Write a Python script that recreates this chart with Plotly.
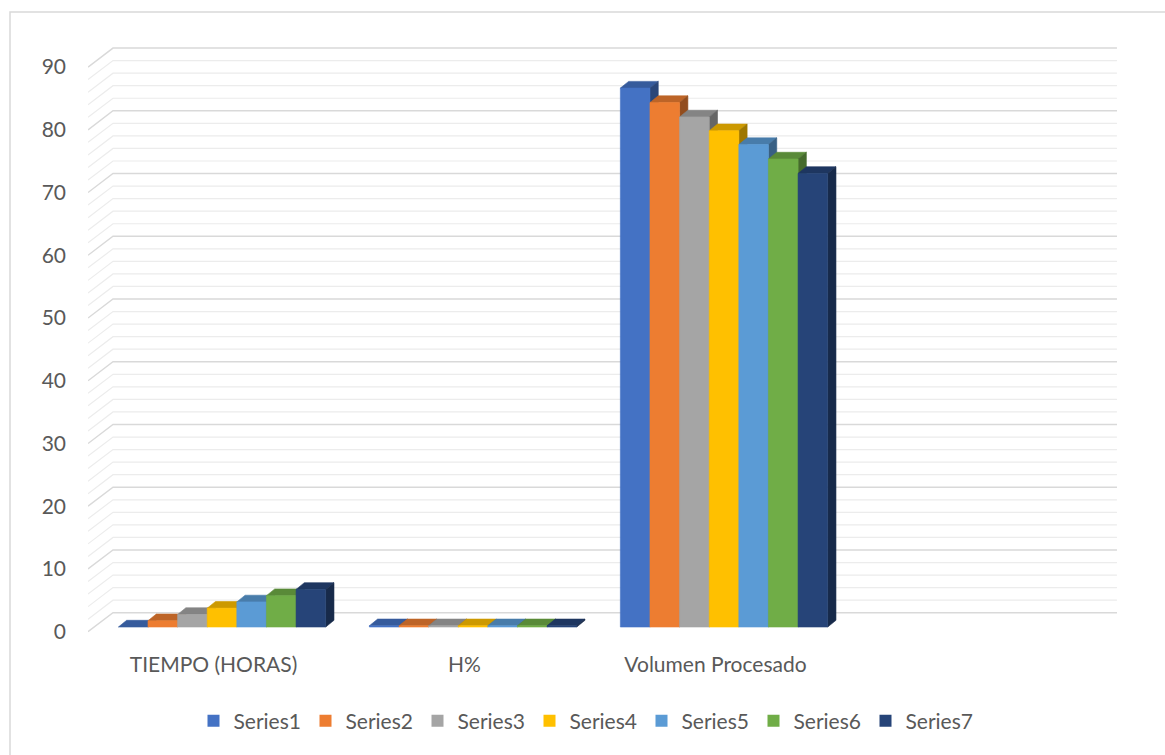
import plotly.graph_objects as go

# ---- data -------------------------------------------------------------
categories = ["TIEMPO (HORAS)", "H%", "Volumen Procesado"]
series_names = ["Series1", "Series2", "Series3", "Series4", "Series5", "Series6", "Series7"]
tiempo = [0, 1, 2, 3, 4, 5, 6]
humedad = [0.2, 0.2, 0.2, 0.2, 0.2, 0.2, 0.2]
volumen = [85.9, 83.6, 81.3, 79.1, 76.9, 74.6, 72.3]
y_ticks = [0, 10, 20, 30, 40, 50, 60, 70, 80, 90]

colors = ["#4472C4", "#ED7D31", "#A5A5A5", "#FFC000", "#5B9BD5", "#70AD47", "#264478"]

# ---- geometry of the pseudo-3D column chart (axis units) ---------------
N_SLOTS = 4                 # three categories plus one empty slot on the right
BAR_W = 0.118               # width of one column
WALL_DX, WALL_DY = 0.0996, 3.03     # depth of the side/back walls
FRONT_DX, FRONT_DY = 0.034, 0.75    # offset of the column front plane
BAR_DX, BAR_DY = 0.033, 1.07        # depth of each column
X_MIN, X_MAX = -0.5, 3.6116
Y_MIN, Y_MAX = -1.0, 93.2
GRID_TOP = 90

W, H = 1165, 755
M_L, M_R, M_T, M_B = 88, 45, 47, 117
PLOT_W = W - M_L - M_R
PLOT_H = H - M_T - M_B

FONT = "Lato"
TEXT_COLOR = "#595959"


def shade(hex_color, k):
    h = hex_color.lstrip("#")
    r, g, b = (int(h[i:i + 2], 16) for i in (0, 2, 4))
    return "#%02x%02x%02x" % (int(r * k), int(g * k), int(b * k))


def polygon(xs, ys, color):
    return go.Scatter(
        x=xs + [xs[0]], y=ys + [ys[0]], mode="lines", fill="toself",
        fillcolor=color, line=dict(color=color, width=0.6),
        hoverinfo="skip", showlegend=False,
    )


fig = go.Figure()

# ---- side and back wall gridlines -------------------------------------
x_back_right = X_MIN + N_SLOTS + WALL_DX
for is_major, color, width in ((False, "#ececec", 1.2), (True, "#d9d9d9", 1.4)):
    gx, gy = [], []
    for v in range(0, GRID_TOP + 1, 2):
        if (v % 10 == 0) != is_major:
            continue
        gx += [X_MIN, X_MIN + WALL_DX, x_back_right, None]
        gy += [v, v + WALL_DY, v + WALL_DY, None]
    fig.add_trace(go.Scatter(x=gx, y=gy, mode="lines",
                             line=dict(color=color, width=width),
                             hoverinfo="skip", showlegend=False))

# ---- columns: top, side, front faces, drawn left to right -------------
values = [[tiempo[j], humedad[j], volumen[j]] for j in range(len(series_names))]
for i in range(len(categories)):
    for j, name in enumerate(series_names):
        v = values[j][i]
        xl = i + FRONT_DX + (j - len(series_names) / 2) * BAR_W
        xr = xl + BAR_W
        b = FRONT_DY
        t = b + v
        c = colors[j]
        fig.add_trace(polygon([xl, xr, xr + BAR_DX, xl + BAR_DX],
                              [t, t, t + BAR_DY, t + BAR_DY], shade(c, 0.80)))
        fig.add_trace(polygon([xr, xr + BAR_DX, xr + BAR_DX, xr],
                              [b, b + BAR_DY, t + BAR_DY, t], shade(c, 0.62)))
        if v > 0:
            fig.add_trace(polygon([xl, xr, xr, xl], [b, b, t, t], c))

# ---- legend entries ---------------------------------------------------
for name, c in zip(series_names, colors):
    fig.add_trace(go.Scatter(x=[None], y=[None], mode="markers", name=name,
                             marker=dict(symbol="square", size=12, color=c)))

# ---- chart frame ------------------------------------------------------
px_x = lambda p: (p - M_L) / PLOT_W
px_y = lambda p: (M_T + PLOT_H - p) / PLOT_H
fig.add_shape(type="rect", xref="paper", yref="paper",
              x0=px_x(10), x1=px_x(W + 20), y0=px_y(H + 20), y1=px_y(12),
              line=dict(color="#d9d9d9", width=1.5), fillcolor="rgba(0,0,0,0)",
              layer="below")

fig.update_layout(
    width=W, height=H,
    margin=dict(l=M_L, r=M_R, t=M_T, b=M_B, autoexpand=False),
    paper_bgcolor="white", plot_bgcolor="white",
    font=dict(family=FONT, size=21, color=TEXT_COLOR),
    showlegend=True,
    legend=dict(orientation="h", x=px_x(585.5), xanchor="center",
                y=px_y(721), yanchor="middle",
                entrywidth=67, entrywidthmode="pixels",
                font=dict(family=FONT, size=21, color=TEXT_COLOR),
                itemclick=False, itemdoubleclick=False),
    xaxis=dict(range=[X_MIN, X_MAX], tickvals=[0, 1, 2], ticktext=categories,
               showgrid=False, zeroline=False, showline=False, ticks="",
               ticklabelstandoff=12, fixedrange=True),
    yaxis=dict(range=[Y_MIN, Y_MAX], tickvals=y_ticks,
               showgrid=False, zeroline=False, showline=False, ticks="",
               ticklabelstandoff=21, fixedrange=True),
    hovermode=False,
)

fig.write_html("out.html")
